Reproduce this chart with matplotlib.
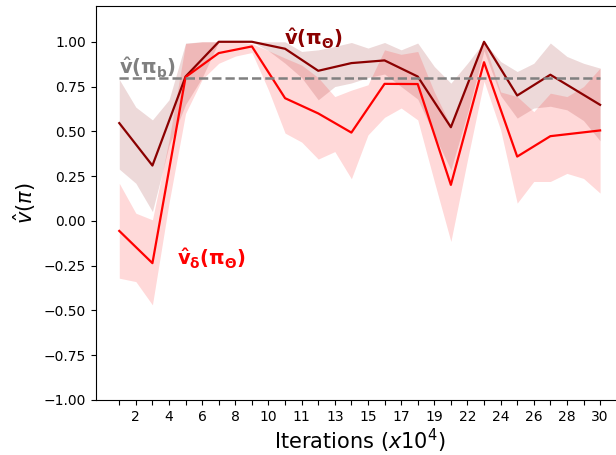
import numpy as np
import matplotlib
matplotlib.use('Agg')
import matplotlib.pyplot as plt

# x positions: mean curves are stored every 2 ticks, bands at every tick
line_x = [0, 2, 4, 6, 8, 10, 12, 14, 16, 18, 20, 22, 24, 26, 29]
band_x = list(range(30))
tick_labels = ['', '2', '', '4', '', '6', '', '8', '', '10', '', '11', '', '13', '',
               '15', '', '17', '', '19', '', '22', '', '24', '', '26', '', '28', '', '30']

v_theta = [0.546, 0.309, 0.806, 1.0, 1.0, 0.961, 0.838, 0.881, 0.896, 0.806,
           0.523, 1.0, 0.700, 0.816, 0.648]
v_delta = [-0.056, -0.236, 0.803, 0.937, 0.974, 0.685, 0.60, 0.493, 0.765, 0.764,
           0.201, 0.886, 0.359, 0.473, 0.505]
v_b = 0.8

theta_hi = [0.79, 0.635, 0.564, 0.676, 0.993, 1.0, 1.0, 1.0, 1.0, 1.0,
            1.0, 0.946, 0.955, 0.974, 0.996, 0.965, 0.996, 0.955, 0.993, 0.862,
            0.769, 0.88, 1.0, 0.89, 0.834, 0.88, 0.993, 0.918, 0.88, 0.853]
theta_lo = [0.289, 0.21, 0.052, 0.42, 0.65, 0.80, 1.0, 1.0, 1.0, 0.95,
            0.88, 0.80, 0.676, 0.75, 0.77, 0.80, 0.82, 0.75, 0.68, 0.48,
            0.285, 0.60, 0.95, 0.70, 0.574, 0.63, 0.64, 0.62, 0.56, 0.447]
delta_hi = [0.21, 0.043, 0.006, 0.45, 0.99, 1.0, 1.0, 1.0, 0.99, 0.95,
            0.909, 0.87, 0.80, 0.694, 0.73, 0.76, 0.955, 0.93, 0.946, 0.72,
            0.53, 0.78, 1.0, 0.72, 0.694, 0.61, 0.713, 0.694, 0.75, 0.853]
delta_lo = [-0.32, -0.339, -0.469, 0.10, 0.60, 0.79, 0.88, 0.92, 0.94, 0.73,
            0.49, 0.44, 0.345, 0.387, 0.235, 0.48, 0.578, 0.63, 0.564, 0.22,
            -0.115, 0.34, 0.78, 0.508, 0.099, 0.22, 0.22, 0.265, 0.237, 0.155]

fig = plt.figure(figsize=(6.16, 4.55), dpi=100)
ax = fig.add_axes([0.1554, 0.1209, 0.857, 0.866])

ax.fill_between(band_x, theta_lo, theta_hi, color='darkred', alpha=0.15, linewidth=0)
ax.fill_between(band_x, delta_lo, delta_hi, color='red', alpha=0.15, linewidth=0)
ax.plot(line_x, v_theta, color='darkred', linewidth=1.6)
ax.plot(line_x, v_delta, color='red', linewidth=1.6)
ax.plot([band_x[0], band_x[-1]], [v_b, v_b], color='grey', linestyle='--', linewidth=1.8)

ax.text(11.7, 1.017, r'$\mathbf{\hat{v}(\pi_\Theta)}$', color='darkred',
        fontsize=14, ha='center', va='center')
ax.text(1.7, 0.855, r'$\mathbf{\hat{v}(\pi_b)}$', color='grey',
        fontsize=14, ha='center', va='center')
ax.text(5.55, -0.21, r'$\mathbf{\hat{v}_\delta(\pi_\Theta)}$', color='red',
        fontsize=14, ha='center', va='center')

ax.set_xticks(band_x)
ax.set_xticklabels(tick_labels)
ax.set_yticks(np.arange(-1.0, 1.01, 0.25))
ax.set_xlim(-1.42, 30.42)
ax.set_ylim(-1.0, 1.2)
ax.set_xlabel(r'Iterations ($x10^4$)', fontsize=15, labelpad=2)
ax.set_ylabel(r'$\hat{v}(\pi)$', fontsize=15)

plt.savefig('out.png', dpi=100)
